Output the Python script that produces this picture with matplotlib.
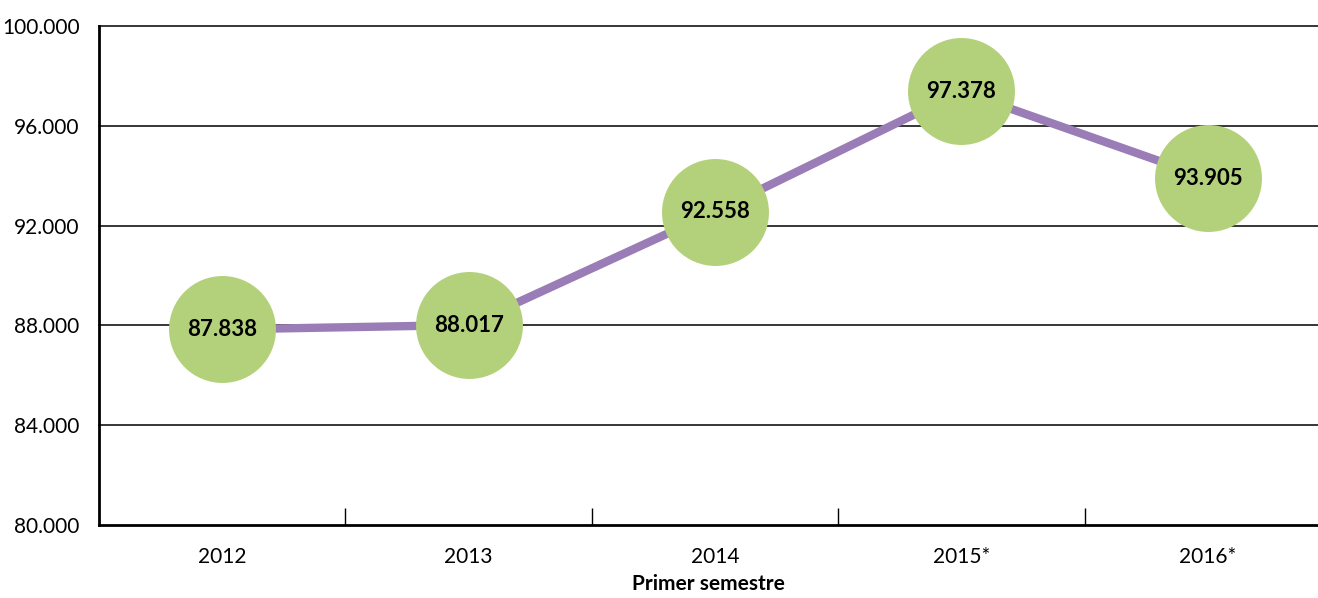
import numpy as np
import matplotlib.pyplot as plt
from matplotlib.ticker import FuncFormatter, FixedLocator

# data
years = ['2012', '2013', '2014', '2015*', '2016*']
values = [87838, 88017, 92558, 97378, 93905]
y_ticks = [80000, 84000, 88000, 92000, 96000, 100000]

plt.rcParams['font.family'] = ['Lato', 'DejaVu Sans']

fig = plt.figure(figsize=(13.18, 5.98), dpi=100)
ax = fig.add_axes([0.0751, 0.122, 0.9249, 0.8345])

x = np.arange(len(years))

#horizontal gridlines
for yt in y_ticks[1:]:
    ax.axhline(yt, color='black', lw=1.1, zorder=1, clip_on=False)

ax.plot(x, values, color='#9a7cb6', lw=6, zorder=2, solid_capstyle='butt')
ax.plot(x, values, 'o', ms=77, color='#b3d17a', mec='none', zorder=3)

for xi, v in zip(x, values):
    lbl = f'{v/1000:.3f}'
    ax.text(xi, v, lbl, ha='center', va='center', fontsize=16, fontweight='bold', zorder=4)

ax.set_xlim(-0.5, 4.447)
ax.set_ylim(80000, 100000)
ax.set_yticks(y_ticks)
ax.yaxis.set_major_formatter(FuncFormatter(lambda v, p: f'{v/1000:.3f}'))
ax.tick_params(axis='y', length=0, labelsize=15, pad=14)

ax.set_xticks(x)
ax.set_xticklabels(years)
ax.xaxis.set_minor_locator(FixedLocator(x[:-1] + 0.5))
ax.tick_params(axis='x', which='major', length=0, labelsize=15, pad=16)
ax.tick_params(axis='x', which='minor', direction='in', length=12, width=1)
ax.set_xlabel('Primer semestre', fontsize=15, fontweight='bold', labelpad=5)

for s in ['top', 'right']:
    ax.spines[s].set_visible(False)
ax.spines['left'].set_linewidth(2)
ax.spines['bottom'].set_linewidth(2)

fig.savefig('out.png', dpi=100)
